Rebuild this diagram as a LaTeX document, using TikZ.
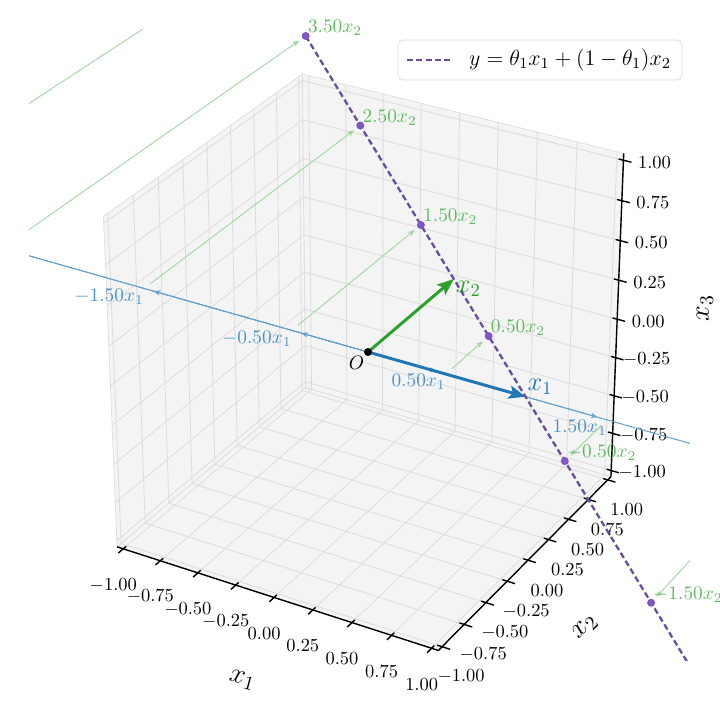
\documentclass[tikz,border=0pt]{standalone}
\usepackage{fix-cm}
\usetikzlibrary{arrows.meta}
\definecolor{VecOneClr}{HTML}{1F77B4}
\definecolor{VecTwoClr}{HTML}{2CA02C}
\definecolor{LineClr}{HTML}{6A4C9C}
\definecolor{DotClr}{HTML}{7E57C2}
\definecolor{PaneClr}{HTML}{F4F4F4}
\definecolor{GridClr}{HTML}{DDDDDD}
\begin{document}
\begin{tikzpicture}[x=0.02cm,y=-0.02cm,
  declare function={
    tt(\xa,\xb,\xc)=1-(0.4330*\xa-0.75*\xb+0.5*\xc)/20;
    px(\xa,\xb,\xc)=368+178*(0.8660*\xa+0.5*\xb)/tt(\xa,\xb,\xc);
    py(\xa,\xb,\xc)=352-175*(-0.25*\xa+0.4330*\xb+0.8960*\xc)/tt(\xa,\xb,\xc);},
  pane/.style={fill=PaneClr,draw=GridClr,line width=0.4pt},
  gridline/.style={draw=GridClr,line width=0.5pt},
  axisline/.style={draw=black,line width=0.8pt},
  ticklabel/.style={font=\fontsize{10.5}{12}\selectfont,inner sep=0pt},
  datalabel/.style={font=\fontsize{11}{13}\selectfont,inner sep=0pt},
  axislabel/.style={font=\fontsize{16}{18}\selectfont},
  vecone/.style={draw=VecOneClr,line width=1.7pt,-{Stealth[length=9.5pt,width=7.5pt,inset=2pt]}},
  vectwo/.style={draw=VecTwoClr,line width=1.7pt,-{Stealth[length=9.5pt,width=7.5pt,inset=2pt]}},
  thinone/.style={draw=VecOneClr!70,line width=0.4pt,-{Stealth[length=4pt,width=3pt]},shorten >=5.5pt},
  thintwo/.style={draw=VecTwoClr!45,line width=0.5pt,-{Stealth[length=4pt,width=3pt]},shorten <=4.5pt,shorten >=4.5pt},
  dotline/.style={draw=VecOneClr!80,line width=0.6pt,dash pattern=on 0.8pt off 0.8pt},
  dashline/.style={draw=LineClr,line width=1.3pt,dash pattern=on 3.4pt off 1.9pt}]
\useasboundingbox (0,0) rectangle (720,720);
\def\bd{1.0417}

\coordinate (fL) at ({px(-\bd,-\bd,-\bd)},{py(-\bd,-\bd,-\bd)});
\coordinate (fF) at ({px(\bd,-\bd,-\bd)},{py(\bd,-\bd,-\bd)});
\coordinate (fR) at ({px(\bd,\bd,-\bd)},{py(\bd,\bd,-\bd)});
\coordinate (fB) at ({px(-\bd,\bd,-\bd)},{py(-\bd,\bd,-\bd)});
\coordinate (tL) at ({px(-\bd,-\bd,\bd)},{py(-\bd,-\bd,\bd)});
\coordinate (tR) at ({px(\bd,\bd,\bd)},{py(\bd,\bd,\bd)});
\coordinate (tB) at ({px(-\bd,\bd,\bd)},{py(-\bd,\bd,\bd)});
\coordinate (O) at ({px(0,0,0)},{py(0,0,0)});
\coordinate (X1) at ({px(1,0,0)},{py(1,0,0)});
\coordinate (X2) at ({px(0,1,0)},{py(0,1,0)});

\filldraw[pane] (fL) -- (fB) -- (tB) -- (tL) -- cycle;
\filldraw[pane] (fB) -- (fR) -- (tR) -- (tB) -- cycle;
\filldraw[pane] (fL) -- (fF) -- (fR) -- (fB) -- cycle;
\foreach \g in {-1,-0.75,-0.5,-0.25,0,0.25,0.5,0.75,1}{
  \draw[gridline] ({px(\g,-\bd,-\bd)},{py(\g,-\bd,-\bd)}) -- ({px(\g,\bd,-\bd)},{py(\g,\bd,-\bd)}) -- ({px(\g,\bd,\bd)},{py(\g,\bd,\bd)});
  \draw[gridline] ({px(\bd,\g,-\bd)},{py(\bd,\g,-\bd)}) -- ({px(-\bd,\g,-\bd)},{py(-\bd,\g,-\bd)}) -- ({px(-\bd,\g,\bd)},{py(-\bd,\g,\bd)});
  \draw[gridline] ({px(-\bd,-\bd,\g)},{py(-\bd,-\bd,\g)}) -- ({px(-\bd,\bd,\g)},{py(-\bd,\bd,\g)}) -- ({px(\bd,\bd,\g)},{py(\bd,\bd,\g)});
}

\draw[axisline] (fL) -- (fF) -- (fR) -- (tR);
\foreach \g/\s in {-1/-1.00,-0.75/-0.75,-0.5/-0.50,-0.25/-0.25,0/0.00,0.25/0.25,0.5/0.50,0.75/0.75,1/1.00}{
  \draw[axisline] ({px(\g,-\bd-0.05,-\bd)},{py(\g,-\bd-0.05,-\bd)}) -- ({px(\g,-\bd+0.03,-\bd)},{py(\g,-\bd+0.03,-\bd)});
  \draw[axisline] ({px(\bd+0.05,\g,-\bd)},{py(\bd+0.05,\g,-\bd)}) -- ({px(\bd-0.03,\g,-\bd)},{py(\bd-0.03,\g,-\bd)});
  \draw[axisline] ({px(\bd+0.05,\bd,\g)},{py(\bd+0.05,\bd,\g)}) -- ({px(\bd-0.03,\bd,\g)},{py(\bd-0.03,\bd,\g)});
  \node[ticklabel] at ({px(\g,-\bd,-\bd)-10},{py(\g,-\bd,-\bd)+36}) {$\s$};
  \node[ticklabel] at ({px(\bd,\g,-\bd)+19},{py(\bd,\g,-\bd)+30}) {$\s$};
  \node[ticklabel] at ({px(\bd,\bd,\g)+31},{py(\bd,\bd,\g)+2}) {$\s$};
}

\begin{scope}
\clip (29,29) rectangle (690,660);
\draw[dotline] ({px(-4,0,0)},{py(-4,0,0)}) -- ({px(4,0,0)},{py(4,0,0)});
\foreach \t in {-3.5,-2.5,-1.5,-0.5,0.5,1.5,2.5}{
  \draw[thintwo] ({px(\t,0,0)},{py(\t,0,0)}) -- ({px(\t,1-(\t),0)},{py(\t,1-(\t),0)});
  \draw[thinone] (O) -- ({px(\t,0,0)},{py(\t,0,0)});
}
\draw[vecone] (O) -- (X1);
\draw[vectwo] (O) -- (X2);
\draw[dashline] ({px(-2.5,3.5,0)},{py(-2.5,3.5,0)}) -- ({px(4,-3,0)},{py(4,-3,0)});
\foreach \t in {-2.5,-1.5,-0.5,0.5,1.5,2.5}
  \fill[DotClr] ({px(\t,1-(\t),0)},{py(\t,1-(\t),0)}) circle[radius=4];
\end{scope}
\fill[black] (O) circle[radius=4];

\foreach \t/\s in {-1.5/-1.50,-0.5/-0.50,0.5/0.50,1.5/1.50}
  \node[datalabel,text=VecOneClr!80,anchor=north east] at ({px(\t,0,0)},{py(\t,0,0)}) {$\s x_1$};
\foreach \t/\s in {-2.5/3.50,-1.5/2.50,-0.5/1.50,0.5/0.50,1.5/-0.50,2.5/-1.50}
  \node[datalabel,text=VecTwoClr!75,anchor=south west] at ({px(\t,1-(\t),0)+2},{py(\t,1-(\t),0)}) {$\s x_2$};
\node[anchor=north east,inner sep=2pt,font=\fontsize{11}{13}\selectfont] (lO) at (O) {$O$};
\node[anchor=south west,inner sep=1pt,text=VecOneClr,font=\fontsize{15}{17}\selectfont] (lX1) at (X1) {$x_1$};
\node[anchor=north west,inner sep=1pt,text=VecTwoClr,font=\fontsize{15}{17}\selectfont] (lX2) at (X2) {$x_2$};

\filldraw[draw=black!15,fill=white,rounded corners=3] (398,40) rectangle (682,80);
\draw[dashline] (407,60) -- (450,60);
\node[font=\fontsize{12.5}{14}\selectfont] (leg) at (570,60) {$y=\theta_1x_1+(1-\theta_1)x_2$};

\node[axislabel,rotate=-15] (lx1) at (242,680) {$x_1$};
\node[axislabel,rotate=45] (lx2) at (585,627) {$x_2$};
\node[axislabel,rotate=90] (lx3) at (705,308) {$x_3$};
\end{tikzpicture}
\end{document}
